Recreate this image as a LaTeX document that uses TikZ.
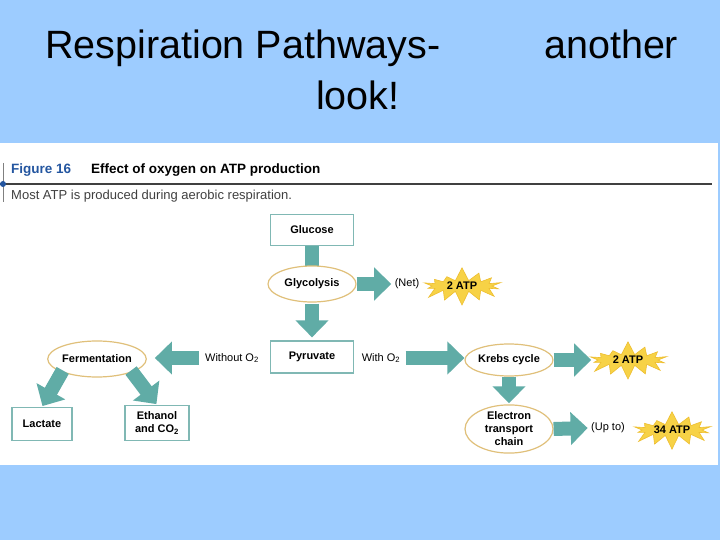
\documentclass[tikz,border=0pt]{standalone}
\usepackage{fontspec}
\setmainfont{Liberation Sans}
\usetikzlibrary{arrows.meta,shapes.geometric,shapes.symbols}
\definecolor{slideblue}{RGB}{157,204,255}
\definecolor{flowteal}{RGB}{96,172,166}
\definecolor{boxedge}{RGB}{128,184,180}
\definecolor{ovaledge}{RGB}{224,192,122}
\definecolor{burstfill}{RGB}{247,210,70}
\definecolor{burstedge}{RGB}{238,190,48}
\definecolor{figblue}{RGB}{36,86,160}
\begin{document}
\begin{tikzpicture}[x=1pt,y=-1pt,
  box/.style={draw=boxedge,line width=1.2pt,fill=white,font=\fontsize{11}{13}\selectfont\bfseries,inner sep=2pt},
  oval/.style={ellipse,draw=ovaledge,line width=1.2pt,fill=white,font=\fontsize{11}{13}\selectfont\bfseries,inner sep=0pt,align=center},
  atp/.style={starburst,starburst points=14,starburst point height=14pt,random starburst=7,fill=burstfill,draw=burstedge,line width=0.6pt,font=\fontsize{11}{13}\selectfont\bfseries,minimum width=88pt,minimum height=38pt,inner sep=0pt},
  fat/.style={flowteal,line width=14pt,-{Triangle[length=17pt,width=32pt]}},
  lbl/.style={font=\fontsize{11}{13}\selectfont},
  headline/.style={anchor=base west,inner sep=0pt,font=\fontsize{39.5}{44}\selectfont}]
\useasboundingbox (0,0) rectangle (720,540);
\fill[slideblue] (0,0) rectangle (720,540);
\fill[white] (0,143) rectangle (718,465);
% slide title
\node[headline] (title) at (45,59) {Respiration Pathways-};
\node[headline] (another) at (544,59) {another};
\node[headline] (look) at (316,110) {look!};
% figure header
\draw[gray,line width=0.8pt] (3,163) -- (3,202);
\draw[black!75,line width=2.2pt] (0,184) -- (712,184);
\fill[figblue] (3,184) circle (3);
\node[anchor=west,inner sep=0pt,text=figblue,font=\fontsize{13.5}{15}\selectfont\bfseries] (fignum) at (11,170) {Figure 16};
\node[anchor=west,inner sep=0pt,font=\fontsize{13.5}{15}\selectfont\bfseries] (figtitle) at (91,170) {Effect of oxygen on ATP production};
\node[anchor=west,inner sep=0pt,text=black!75,font=\fontsize{13}{15}\selectfont] (figsub) at (11,196) {Most ATP is produced during aerobic respiration.};
% flow
\node[box,minimum width=83pt,minimum height=31pt] (glucose) at (312,230) {Glucose};
\draw[flowteal,line width=14pt] (glucose.south) -- (312,268);
\node[oval,minimum width=88pt,minimum height=36pt] (glycolysis) at (312,284) {Glycolysis};
\node[lbl] (net) at (407,284) {(Net)};
\node[atp] (atpa) at (462,286) {2 ATP};
\node[box,minimum width=83pt,minimum height=32pt] (pyruvate) at (312,357) {Pyruvate};
\node[lbl] (without) at (232,358) {Without O\textsubscript{2}};
\node[lbl] (with) at (381,358) {With O\textsubscript{2}};
\node[oval,minimum width=88pt,minimum height=36pt] (ferm) at (97,359) {Fermentation};
\node[box,minimum width=60pt,minimum height=33pt] (lactate) at (42,424) {Lactate};
\node[box,minimum width=64pt,minimum height=35pt,align=center,font=\fontsize{11}{12.5}\selectfont\bfseries] (ethanol) at (157,423) {Ethanol\\and CO\textsubscript{2}};
\node[oval,minimum width=88pt,minimum height=32pt] (krebs) at (509,360) {Krebs cycle};
\node[atp] (atpb) at (628,360) {2 ATP};
\node[oval,minimum width=88pt,minimum height=48pt,font=\fontsize{11}{13}\selectfont\bfseries] (etc) at (509,429) {Electron\\transport\\chain};
\node[lbl] (upto) at (608,428) {(Up to)};
\node[atp] (atpc) at (672,430) {34 ATP};
\draw[fat] (glycolysis.east) -- (net.west);
\draw[fat,shorten <=1pt,shorten >=3pt] (glycolysis.south) -- (pyruvate.north);
\draw[fat,shorten <=3pt,shorten >=8pt] (without.west) -- (without.west -| ferm.east);
\draw[fat,shorten <=2pt] (with.east) -- (with.east -| krebs.west);
\draw[fat,shorten >=6pt] (krebs.east) -- (krebs.east -| atpb.west);
\draw[fat,shorten >=1pt] (krebs.south) -- (etc.north);
\draw[fat] (etc.east) -- (upto.west);
\draw[fat,shorten <=-2pt,shorten >=1pt] (ferm.south west) -- (lactate.north);
\draw[fat,shorten <=-2pt,shorten >=1pt] (ferm.south east) -- (ethanol.north);
\end{tikzpicture}
\end{document}
